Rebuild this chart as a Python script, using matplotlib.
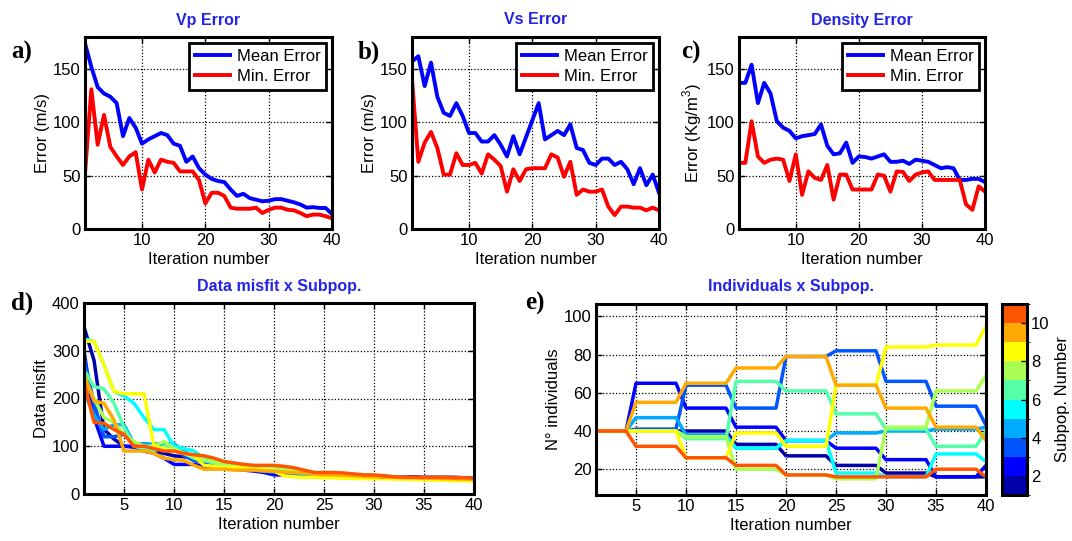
import numpy as np
import matplotlib
matplotlib.use("Agg")
import matplotlib.pyplot as plt
from matplotlib.colors import ListedColormap, BoundaryNorm
from matplotlib.cm import ScalarMappable

plt.rcParams['font.family'] = ['Liberation Sans', 'DejaVu Sans']
plt.rcParams['mathtext.fontset'] = 'custom'
plt.rcParams['mathtext.rm'] = 'Liberation Sans'

iterations = np.arange(1, 41)

# ---- error curves (top row) ----
vp_mean = [174, 152, 133, 127, 124, 118, 87, 104, 95, 80, 84, 87, 90, 88, 80, 78, 63, 68, 57, 51,
           47, 45, 44, 37, 31, 33, 29, 27.5, 26, 26.5, 28, 28, 26.5, 25, 23, 20, 20.5, 19.7, 19.7, 14]
vp_min = [52, 131, 79, 107, 77, 68, 60, 68, 72, 37, 65, 53, 65, 63, 62, 54, 54, 54, 46, 24,
          34, 34, 31, 20, 19, 19, 19, 20, 15, 18, 20, 20, 18, 17.5, 15, 12, 13.5, 13.5, 12, 10]

vs_mean = [157, 162, 134, 156, 124, 109, 106, 118, 106, 90, 90, 82, 82, 88, 79, 68, 87, 70, 86, 102,
           118, 84, 88, 92, 88, 98, 76, 74, 62, 60, 66, 66, 60, 63, 56, 42, 57, 41, 51, 34]
vs_min = [140, 63, 81, 91, 76, 51, 51, 71, 60, 60, 62, 52, 70, 65, 59, 35, 56, 45, 56, 57,
          57, 57, 70, 67, 49, 63, 32, 37, 35, 35, 37, 21, 13, 21, 21, 20, 20, 17.5, 20, 17.5]

den_mean = [137, 137, 154, 118, 137, 127, 101, 95, 92, 85, 87, 88, 89, 98, 78, 70, 71, 81, 62, 68,
            67.5, 66, 68, 70, 63, 63, 64, 61, 65, 64, 63, 60, 57, 58, 57, 46, 46, 47, 47, 44]
den_min = [62, 62, 101, 68, 62, 65, 66, 65, 45, 70, 32, 54, 48, 46, 60, 27.5, 51, 51, 37, 37,
           37, 37, 51, 50, 35, 54, 53.5, 45, 51, 53, 54, 46, 46, 46, 46, 46, 23, 18, 40, 35]

# ---- data misfit per subpopulation ----
misfit_1 = [350, 280, 135, 115, 100, 100, 95, 90, 85, 80, 78, 75, 70, 65, 62, 60, 55, 52, 50, 48,
            46, 44, 42, 42, 40, 40, 39, 38, 38, 37, 37, 36, 36, 36, 35, 35, 35, 35, 34, 33]
misfit_2 = [300, 160, 100, 100, 100, 98, 90, 85, 75, 62, 62, 62, 58, 55, 55, 52, 50, 48, 45, 40,
            40, 40, 40, 38, 38, 37, 36, 36, 35, 34, 34, 33, 33, 32, 32, 31, 31, 31, 30, 30]
misfit_3 = [285, 190, 120, 120, 125, 105, 105, 100, 100, 100, 80, 70, 65, 60, 58, 55, 52, 50, 48, 45,
            44, 42, 42, 40, 40, 39, 38, 37, 36, 35, 35, 34, 33, 33, 32, 32, 32, 31, 31, 30]
misfit_4 = [215, 165, 135, 145, 145, 105, 105, 105, 105, 105, 90, 75, 70, 68, 62, 58, 55, 52, 50, 48,
            46, 44, 42, 42, 40, 40, 39, 38, 37, 36, 35, 35, 34, 34, 33, 33, 32, 32, 31, 31]
misfit_5 = [325, 320, 270, 215, 205, 190, 160, 135, 135, 100, 95, 90, 75, 70, 65, 62, 58, 55, 52, 50,
            48, 46, 44, 42, 40, 40, 39, 38, 37, 36, 35, 35, 34, 34, 33, 33, 32, 32, 31, 30]
misfit_6 = [260, 225, 220, 190, 140, 100, 95, 90, 100, 95, 85, 75, 70, 65, 60, 58, 56, 55, 54, 52,
            52, 50, 48, 45, 42, 40, 39, 38, 37, 36, 35, 35, 34, 34, 33, 33, 32, 32, 31, 30]
misfit_7 = [245, 200, 160, 150, 125, 110, 100, 100, 110, 95, 85, 80, 72, 68, 62, 60, 58, 56, 55, 54,
            53, 52, 50, 45, 42, 40, 40, 39, 38, 37, 36, 35, 35, 34, 34, 33, 33, 32, 32, 31]
misfit_8 = [320, 320, 270, 215, 210, 210, 210, 100, 95, 90, 85, 80, 60, 58, 55, 55, 55, 52, 50, 48,
            38, 36, 35, 35, 34, 34, 33, 33, 32, 32, 32, 31, 31, 30, 30, 29, 29, 28, 28, 27]
misfit_9 = [250, 195, 190, 155, 90, 90, 90, 85, 75, 72, 70, 60, 52, 52, 52, 50, 50, 50, 48, 48,
            46, 45, 44, 42, 40, 40, 39, 38, 37, 36, 35, 35, 34, 34, 33, 33, 32, 32, 31, 30]
misfit_10 = [235, 150, 148, 135, 125, 100, 100, 95, 90, 90, 85, 82, 80, 75, 68, 65, 62, 60, 60, 60,
             58, 55, 50, 45, 45, 45, 44, 42, 40, 40, 38, 36, 35, 35, 35, 35, 35, 34, 34, 33]
misfit = [misfit_1, misfit_2, misfit_3, misfit_4, misfit_5,
          misfit_6, misfit_7, misfit_8, misfit_9, misfit_10]

# ---- individuals per subpopulation (population is rebalanced every 5 iterations) ----
block_lengths = [4, 5, 5, 5, 5, 5, 5, 5, 1]
indiv_1 = [40, 40, 40, 33, 27, 22, 18, 16, 16]
indiv_2 = [40, 65, 52, 42, 35, 31, 25, 16, 22]
indiv_3 = [40, 41, 64, 52, 79, 82, 66, 53, 43]
indiv_4 = [40, 47, 38, 31, 35, 39, 40, 41, 42]
indiv_5 = [40, 40, 37, 31, 35, 18, 16, 28, 24]
indiv_6 = [40, 40, 36, 66, 61, 49, 41, 32, 40]
indiv_7 = [40, 40, 37, 20, 17, 15, 42, 61, 69]
indiv_8 = [40, 40, 26, 39, 32, 64, 84, 85, 95]
indiv_9 = [40, 55, 65, 73, 79, 64, 52, 42, 35]
indiv_10 = [40, 32, 26, 22, 17, 16, 16, 20, 16]
individuals = [indiv_1, indiv_2, indiv_3, indiv_4, indiv_5,
               indiv_6, indiv_7, indiv_8, indiv_9, indiv_10]

subpop_colors = ['#0000AA', '#0000FF', '#0055FF', '#00AAFF', '#00FFFF',
                 '#55FFAA', '#AAFF55', '#FFFF00', '#FFAA00', '#FF5500']

title_color = '#2424E6'

W, H = 1072, 541
fig = plt.figure(figsize=(W / 100, H / 100), dpi=100)


def px_axes(left, top, right, bottom):
    return fig.add_axes([left / W, 1 - bottom / H, (right - left) / W, (bottom - top) / H])


def style(ax):
    for sp in ax.spines.values():
        sp.set_linewidth(2.2)
    ax.grid(True, linestyle=(0, (1, 1.6)), color='k', linewidth=0.9)
    ax.set_axisbelow(True)
    ax.tick_params(direction='in', length=4, width=1, labelsize=12, pad=3,
                   top=True, right=True)


def error_panel(ax, mean, mn, title, ylabel):
    ax.plot(iterations, mean, color='#0000FF', lw=2.8, label='Mean Error')
    ax.plot(iterations, mn, color='#FF0000', lw=2.8, label='Min. Error')
    ax.set_xlim(1, 40)
    ax.set_ylim(0, 180)
    ax.set_xticks([10, 20, 30, 40])
    ax.set_yticks([0, 50, 100, 150])
    style(ax)
    ax.set_title(title, color=title_color, fontweight='bold', fontsize=11.5, pad=9)
    ax.set_xlabel('Iteration number', fontsize=12, labelpad=3)
    ax.set_ylabel(ylabel, fontsize=12, labelpad=2)
    leg = ax.legend(loc='upper right', fontsize=12, handlelength=2.1, fancybox=False,
                    borderaxespad=0.35, framealpha=1, borderpad=0.35,
                    labelspacing=0.3, handletextpad=0.4)
    leg.get_frame().set_edgecolor('k')
    leg.get_frame().set_linewidth(2.0)


ax_a = px_axes(85, 37, 332, 229)
error_panel(ax_a, vp_mean, vp_min, 'Vp Error', 'Error (m/s)')
ax_b = px_axes(412, 37, 659, 229)
error_panel(ax_b, vs_mean, vs_min, 'Vs Error', 'Error (m/s)')
ax_c = px_axes(739, 37, 985, 229)
error_panel(ax_c, den_mean, den_min, 'Density Error', 'Error (Kg/m$^3$)')

# ---- data misfit ----
ax_d = px_axes(84, 303, 474, 494)
for vals, col in zip(misfit, subpop_colors):
    ax_d.plot(iterations, vals, color=col, lw=2.5)
ax_d.set_xlim(1, 40)
ax_d.set_ylim(0, 400)
ax_d.set_xticks(np.arange(5, 41, 5))
ax_d.set_yticks(np.arange(0, 401, 100))
style(ax_d)
ax_d.set_title('Data misfit x Subpop.', color=title_color, fontweight='bold', fontsize=11.5, pad=9)
ax_d.set_xlabel('Iteration number', fontsize=12, labelpad=3)
ax_d.set_ylabel('Data misfit', fontsize=12, labelpad=2)

# ---- individuals ----
ax_e = px_axes(596, 304, 986, 495)
for vals, col in zip(individuals, subpop_colors):
    ax_e.plot(iterations, np.repeat(vals, block_lengths), color=col, lw=2.5)
ax_e.set_xlim(1, 40)
ax_e.set_ylim(6.5, 106.5)
ax_e.set_xticks(np.arange(5, 41, 5))
ax_e.set_yticks(np.arange(20, 101, 20))
style(ax_e)
ax_e.set_title('Individuals x Subpop.', color=title_color, fontweight='bold', fontsize=11.5, pad=9)
ax_e.set_xlabel('Iteration number', fontsize=12, labelpad=3)
ax_e.set_ylabel('N° individuals', fontsize=12, labelpad=2)

cax = px_axes(1002, 304, 1027, 495)
cmap = ListedColormap(subpop_colors)
norm = BoundaryNorm(np.arange(1, 12), cmap.N)
cb = fig.colorbar(ScalarMappable(norm=norm, cmap=cmap), cax=cax, ticks=[2, 4, 6, 8, 10])
cb.outline.set_linewidth(2.2)
cb.ax.tick_params(direction='in', length=4, width=1, labelsize=12, pad=3)
cb.set_label('Subpop. Number', fontsize=12, labelpad=4)

# ---- panel letters ----
for letter, x, y in [('a)', 11, 52), ('b)', 358, 52), ('c)', 681, 52),
                     ('d)', 11, 303), ('e)', 525, 303)]:
    fig.text(x / W, 1 - y / H, letter, family=['Liberation Serif', 'DejaVu Serif'],
             fontweight='bold', fontsize=18, va='center', ha='left')

fig.savefig('out.png', dpi=100)
